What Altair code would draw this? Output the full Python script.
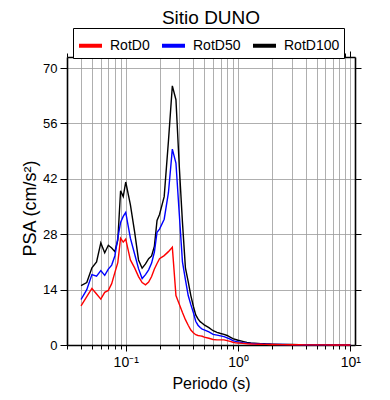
import altair as alt
import pandas as pd

periods = [0.04, 0.045, 0.05, 0.055, 0.06, 0.065, 0.07, 0.075, 0.08, 0.085, 0.09, 0.095,
           0.10, 0.11, 0.12, 0.13, 0.14, 0.15, 0.16, 0.17, 0.18, 0.19, 0.20,
           0.22, 0.24, 0.26, 0.28,
           0.30, 0.32, 0.34, 0.36, 0.38, 0.40, 0.42, 0.44, 0.46, 0.48, 0.50,
           0.55, 0.60, 0.65, 0.70, 0.75, 0.80, 0.85, 0.90, 0.95,
           1.0, 1.1, 1.2, 1.3, 1.4, 1.5, 1.6, 1.7, 1.8, 1.9, 2.0,
           2.5, 3.0, 3.5, 4.0, 4.5, 5.0,
           6.0, 7.0, 8.0, 9.0, 10.0]

rotd100 = [15.0, 15.8, 19.5, 21.0, 25.8, 23.3, 25.2, 24.5, 23.6, 26.5, 39.0, 37.5,
           41.2, 35.5, 28.6, 21.5, 19.4, 20.5, 21.8, 22.5, 25.0, 31.5, 33.0,
           37.5, 51.5, 65.5, 62.0,
           45.0, 31.0, 19.5, 16.0, 12.5, 9.8, 7.6, 6.6, 5.9, 5.5, 5.1,
           4.4, 3.6, 3.2, 2.9, 2.7, 2.4, 2.0, 1.6, 1.4,
           1.2, 0.9, 0.65, 0.52, 0.45, 0.40, 0.35, 0.31, 0.28, 0.25, 0.22,
           0.15, 0.11, 0.08, 0.06, 0.05, 0.04,
           0.03, 0.025, 0.02, 0.015, 0.012]

rotd50 = [11.5, 14.0, 17.8, 17.4, 18.8, 17.6, 19.2, 20.2, 22.5, 27.0, 31.0, 32.5,
          33.5, 27.0, 23.0, 19.3, 16.8, 17.8, 19.0, 20.7, 23.5, 28.5, 29.3,
          31.8, 38.5, 49.5, 46.0,
          33.0, 21.0, 16.5, 12.5, 10.2, 8.2, 6.0, 5.0, 4.4, 4.0, 3.8,
          3.3, 2.7, 2.5, 2.3, 2.1, 1.8, 1.5, 1.1, 0.9,
          0.8, 0.6, 0.45, 0.38, 0.33, 0.29, 0.26, 0.23, 0.21, 0.19, 0.17,
          0.12, 0.09, 0.07, 0.05, 0.04, 0.035,
          0.025, 0.02, 0.016, 0.012, 0.01]

rotd0 = [9.9, 12.2, 14.3, 12.9, 11.6, 13.3, 13.8, 15.5, 18.3, 20.8, 27.0, 26.0,
         26.8, 21.5, 19.5, 17.3, 15.8, 15.2, 15.9, 17.3, 19.2, 20.6, 21.8,
         22.6, 23.6, 24.7, 12.5,
         10.3, 8.2, 6.4, 5.0, 3.8, 3.1, 2.6, 2.4, 2.3, 2.2, 2.0,
         1.7, 1.4, 1.3, 1.3, 1.3, 1.1, 0.9, 0.7, 0.55,
         0.5, 0.4, 0.32, 0.27, 0.23, 0.2, 0.18, 0.16, 0.15, 0.14, 0.13,
         0.09, 0.07, 0.05, 0.04, 0.03, 0.025,
         0.02, 0.015, 0.012, 0.01, 0.008]

series_names = ["RotD0", "RotD50", "RotD100"]
series_colors = ["#ff0000", "#0000ff", "#000000"]

x_tick_values = [0.03, 0.04, 0.05, 0.06, 0.07, 0.08, 0.09,
                 0.1, 0.2, 0.3, 0.4, 0.5, 0.6, 0.7, 0.8, 0.9,
                 1, 2, 3, 4, 5, 6, 7, 8, 9, 10]
y_tick_values = [0, 14, 28, 42, 56, 70]

rows = []
for name, vals in [("RotD100", rotd100), ("RotD50", rotd50), ("RotD0", rotd0)]:
    for t, v in zip(periods, vals):
        rows.append({"T": t, "PSA": v, "serie": name})
df = pd.DataFrame(rows)

FONT = "Liberation Sans"
major_test = "indexof([0.1, 1, 10], datum.value) >= 0"

xscale = alt.Scale(type="log", domain=[0.03, 11], nice=False)
yscale = alt.Scale(domain=[0, 72.8], nice=False, zero=True)
color = alt.Color(
    "serie:N",
    scale=alt.Scale(domain=series_names, range=series_colors),
    legend=alt.Legend(
        title=None, orient="none", direction="horizontal",
        legendX=6, legendY=-29,
        symbolType="stroke", symbolStrokeWidth=4, symbolSize=529,
        labelFont=FONT, labelFontSize=14, labelColor="black", labelOffset=6,
        columnPadding=4, padding=4, strokeColor="black", fillColor="white",
        symbolOpacity=1,
    ),
)

bottom_axis = alt.Axis(
    values=x_tick_values, orient="bottom", title="Periodo (s)",
    labelExpr="datum.value == 0.1 ? '10⁻¹' : datum.value == 1 ? '10⁰' : datum.value == 10 ? '10¹' : ''",
    labelOverlap=False, labelFlush=False, labelFont=FONT, labelFontSize=14, labelColor="black",
    labelPadding=4,
    titleFont=FONT, titleFontSize=16, titleFontWeight="normal", titleColor="black", titlePadding=6,
    grid=True, gridColor="#9a9a9a", gridWidth=0.8,
    domainColor="black", domainWidth=1.6, tickColor="black", tickWidth=1,
    tickSize={"condition": {"test": major_test, "value": 6}, "value": 4},
)
top_axis = alt.Axis(
    values=x_tick_values, orient="top", title=None, labels=False, grid=False,
    domainColor="black", domainWidth=1.6, tickColor="black", tickWidth=1,
    tickSize={"condition": {"test": major_test, "value": 6}, "value": 4},
)
left_axis = alt.Axis(
    values=y_tick_values, orient="left", title="PSA (cm/s²)",
    labelFont=FONT, labelFontSize=13, labelColor="black", labelPadding=3,
    titleFont=FONT, titleFontSize=18, titleFontWeight="normal", titleColor="black", titlePadding=3,
    titleY=151,
    grid=True, gridColor="#9a9a9a", gridWidth=0.8,
    domainColor="black", domainWidth=1.6, tickColor="black", tickWidth=1, tickSize=7,
)
right_axis = alt.Axis(
    values=y_tick_values, orient="right", title=None, labels=False, grid=False,
    domainColor="black", domainWidth=1.6, tickColor="black", tickWidth=1, tickSize=6,
)

main = alt.Chart(df).mark_line(strokeWidth=1.4).encode(
    x=alt.X("T:Q", scale=xscale, axis=bottom_axis),
    y=alt.Y("PSA:Q", scale=yscale, axis=left_axis),
    color=color,
    detail="serie:N",
)
frame = alt.Chart(df).mark_line(opacity=0).encode(
    x=alt.X("T:Q", scale=xscale, axis=top_axis),
    y=alt.Y("PSA:Q", scale=yscale, axis=right_axis),
    color=color,
    detail="serie:N",
)

chart = alt.layer(main, frame).resolve_axis(x="independent", y="independent").properties(
    width=288, height=288,
    title=alt.TitleParams("Sitio DUNO", font=FONT, fontSize=19, fontWeight="normal",
                          color="black", anchor="middle", frame="group", offset=0),
    autosize=alt.AutoSizeParams(type="none"),
    padding={"left": 59, "top": 49, "right": 25, "bottom": 47},
).configure_view(stroke=None).configure(background="white")

chart.save("out.html", embed_options={"renderer": "svg", "actions": False})
